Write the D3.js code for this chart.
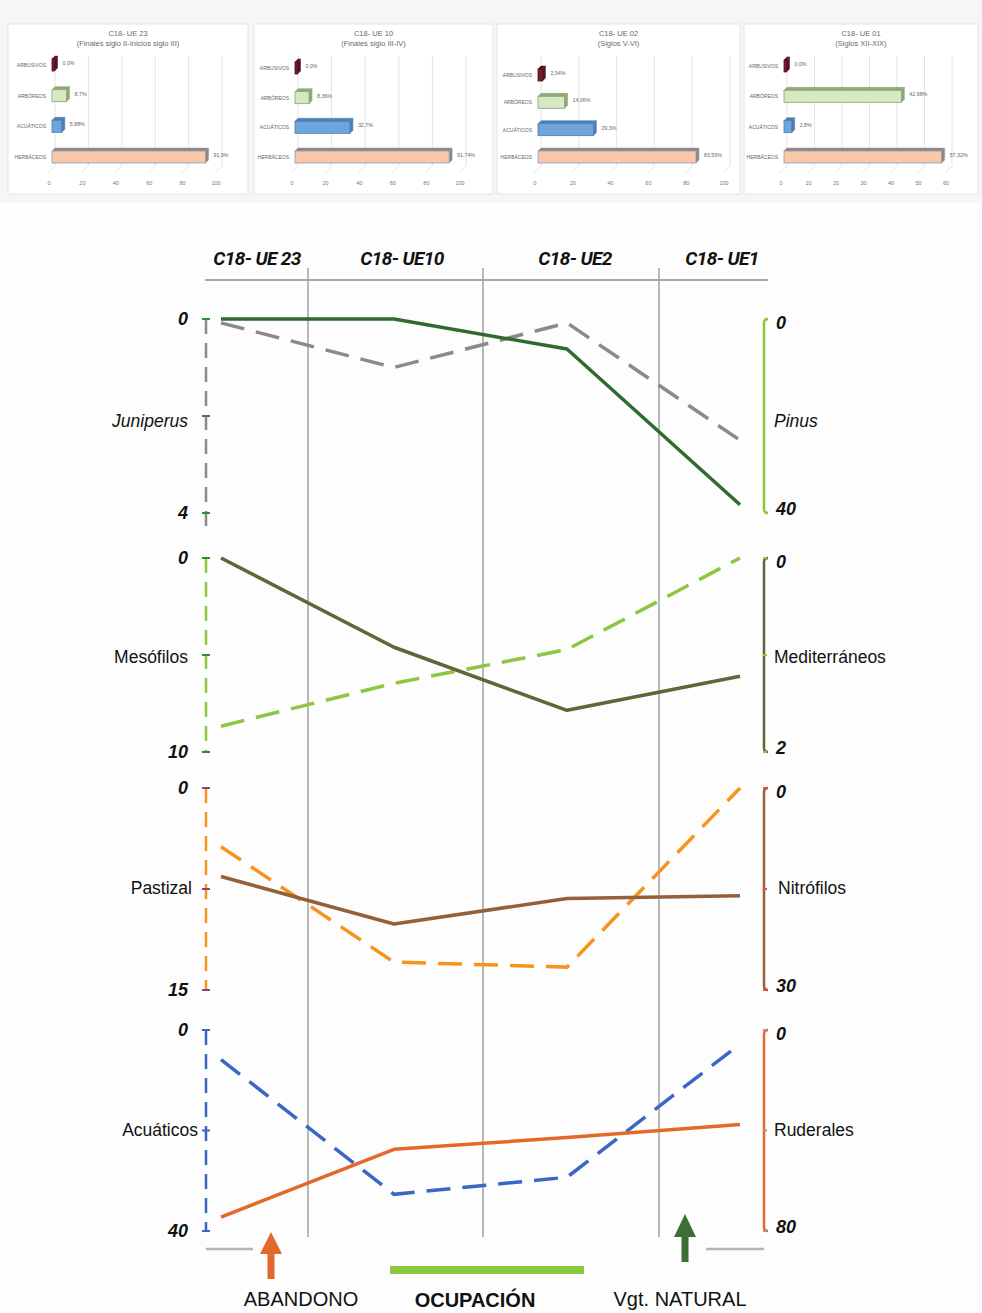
<!DOCTYPE html>
<html>
<head>
<meta charset="utf-8">
<script src="https://cdn.jsdelivr.net/npm/d3@7/dist/d3.min.js"></script>
<style>
  html, body { margin: 0; padding: 0; background: #fdfdfd; }
  svg { display: block; }
</style>
</head>
<body>
<svg id="chart" width="982" height="1313"></svg>
<script>
// ---------------- DATA ----------------
const samples = ["C18- UE 23", "C18- UE10", "C18- UE2", "C18- UE1"];

// Top bar panels
const barCategories = ["ARBUSIVOS", "ARBÓREOS", "ACUÁTICOS", "HERBÁCEOS"];
const panelTitles = ["C18- UE 23", "C18- UE 10", "C18- UE 02", "C18- UE 01"];
const panelSubtitles = ["(Finales siglo II-Inicios siglo III)", "(Finales siglo III-IV)", "(Siglos V-VI)", "(Siglos XII-XIX)"];
const barUE23 = [0.0, 8.7, 5.88, 91.9];
const barUE10 = [0.0, 8.36, 32.7, 91.74];
const barUE02 = [2.34, 14.06, 29.3, 83.59];
const barUE01 = [0.0, 42.68, 2.8, 57.32];
const barLabelsUE23 = ["0,0%", "8,7%", "5,88%", "91,9%"];
const barLabelsUE10 = ["0,0%", "8,36%", "32,7%", "91,74%"];
const barLabelsUE02 = ["2,34%", "14,06%", "29,3%", "83,59%"];
const barLabelsUE01 = ["0,0%", "42,68%", "2,8%", "57,32%"];
const barTicks100 = [0, 20, 40, 60, 80, 100];
const barTicks60 = [0, 10, 20, 30, 40, 50, 60];

// Main chart series (left axis / right axis)
const juniperus = [0.08, 1.0, 0.08, 2.5];      // 0-4
const pinus = [0, 0, 6.2, 38.3];               // 0-40
const mesofilos = [8.67, 6.46, 4.72, 0];       // 0-10
const mediterraneos = [0, 0.92, 1.57, 1.22];   // 0-2
const pastizal = [4.36, 12.93, 13.3, 0];       // 0-15
const nitrofilos = [13.15, 20.2, 16.4, 16.0];  // 0-30
const acuaticos = [5.88, 32.7, 29.3, 2.8];     // 0-40
const ruderales = [74.5, 47.5, 42.8, 37.6];    // 0-80

const leftNames = ["Juniperus", "Mesófilos", "Pastizal", "Acuáticos"];
const rightNames = ["Pinus", "Mediterráneos", "Nitrófilos", "Ruderales"];
const leftMax = [4, 10, 15, 40];
const rightMax = [40, 2, 30, 80];
const bottomLabels = ["ABANDONO", "OCUPACIÓN", "Vgt. NATURAL"];

// ---------------- DRAW ----------------
const svg = d3.select("#chart");

// top strip background
svg.append("rect").attr("x", 0).attr("y", 0).attr("width", 982).attr("height", 203).attr("fill", "#f6f6f6");

const barPanels = [
  { x0: 8, x1: 248, ax0: 52, ax1: 219, ticks: barTicks100, yTop: 65, yBot: 157, vals: barUE23, labs: barLabelsUE23 },
  { x0: 254, x1: 493, ax0: 295, ax1: 463, ticks: barTicks100, yTop: 68, yBot: 157, vals: barUE10, labs: barLabelsUE10 },
  { x0: 497, x1: 740, ax0: 538, ax1: 727, ticks: barTicks100, yTop: 75, yBot: 157, vals: barUE02, labs: barLabelsUE02 },
  { x0: 744, x1: 978, ax0: 784, ax1: 949, ticks: barTicks60, yTop: 66, yBot: 157, vals: barUE01, labs: barLabelsUE01 }
];
const barFill = ["#7a1a2c", "#d6e9c2", "#6ea6dc", "#fbc8a6"];
const barStroke = ["#4d0f1b", "#8aa26e", "#4a7cb8", "#7f9fcf"];
const barSide = ["#5a1020", "#93a87c", "#4f80b2", "#9c8272"];
const depth = 3, barH = 12;

barPanels.forEach((p, i) => {
  const g = svg.append("g");
  g.append("rect").attr("x", p.x0).attr("y", 24).attr("width", p.x1 - p.x0).attr("height", 170)
    .attr("fill", "#ffffff").attr("stroke", "#e3e3e3").attr("stroke-width", 1);
  const cx = (p.x0 + p.x1) / 2;
  g.append("text").attr("x", cx).attr("y", 36).attr("text-anchor", "middle")
    .attr("font-family", "Liberation Sans, Arial, sans-serif").attr("font-size", 7.5).attr("fill", "#6a6a6a")
    .text(panelTitles[i]);
  g.append("text").attr("x", cx).attr("y", 46).attr("text-anchor", "middle")
    .attr("font-family", "Liberation Sans, Arial, sans-serif").attr("font-size", 7.5).attr("fill", "#6a6a6a")
    .text(panelSubtitles[i]);

  const tmax = p.ticks[p.ticks.length - 1];
  const x = d3.scaleLinear().domain([0, tmax]).range([p.ax0, p.ax1]);
  const y = d3.scalePoint().domain(barCategories).range([p.yTop, p.yBot]);

  // gridlines with 3D floor slant
  p.ticks.forEach(t => {
    g.append("line").attr("x1", x(t) + depth).attr("x2", x(t) + depth).attr("y1", 56).attr("y2", 166)
      .attr("stroke", "#dddddd").attr("stroke-width", 0.8);
    g.append("line").attr("x1", x(t) + depth).attr("x2", x(t) - 4).attr("y1", 166).attr("y2", 173)
      .attr("stroke", "#dddddd").attr("stroke-width", 0.8);
    g.append("text").attr("x", x(t) - 3).attr("y", 185).attr("text-anchor", "middle")
      .attr("font-family", "Liberation Sans, Arial, sans-serif").attr("font-size", 5.5).attr("fill", "#777")
      .text(t);
  });

  barCategories.forEach((c, k) => {
    const yc = y(c);
    const w = Math.max(2.5, x(p.vals[k]) - x(0));
    const x0 = x(0), yt = yc - barH / 2, yb = yc + barH / 2;
    g.append("polygon").attr("points", [[x0, yt], [x0 + depth, yt - depth], [x0 + w + depth, yt - depth], [x0 + w, yt]].join(" "))
      .attr("fill", barSide[k]).attr("stroke", barStroke[k]).attr("stroke-width", 0.5);
    g.append("polygon").attr("points", [[x0 + w, yt], [x0 + w + depth, yt - depth], [x0 + w + depth, yb - depth], [x0 + w, yb]].join(" "))
      .attr("fill", barSide[k]).attr("stroke", barStroke[k]).attr("stroke-width", 0.5);
    g.append("rect").attr("x", x0).attr("y", yt).attr("width", w).attr("height", barH)
      .attr("fill", barFill[k]).attr("stroke", barStroke[k]).attr("stroke-width", 0.8);
    g.append("text").attr("x", x0 - 6).attr("y", yc + 2).attr("text-anchor", "end")
      .attr("font-family", "Liberation Sans, Arial, sans-serif").attr("font-size", 5).attr("fill", "#666")
      .text(c);
    g.append("text").attr("x", x0 + w + depth + 5).attr("y", yc).attr("text-anchor", "start")
      .attr("font-family", "Liberation Sans, Arial, sans-serif").attr("font-size", 5.3).attr("fill", "#666")
      .text(p.labs[k]);
  });
});

// ---------- main chart ----------
const x = d3.scalePoint().domain(samples).range([221, 740]);
const headerX = [257, 402, 575, 722];
const dividers = [308, 483, 659];

samples.forEach((s, i) => {
  svg.append("text").attr("x", headerX[i]).attr("y", 265).attr("text-anchor", "middle")
    .attr("font-family", "Roboto, 'Open Sans', sans-serif").attr("font-weight", 700).attr("font-style", "italic")
    .attr("font-size", 19).attr("letter-spacing", -0.6).attr("fill", "#111").text(s);
});
svg.append("line").attr("x1", 205).attr("x2", 768).attr("y1", 280).attr("y2", 280)
  .attr("stroke", "#a8a8a8").attr("stroke-width", 2);
dividers.forEach(d => {
  svg.append("line").attr("x1", d).attr("x2", d).attr("y1", 268).attr("y2", 1237)
    .attr("stroke", "#9a9a9a").attr("stroke-width", 1.4);
});

const panels = [
  { top: 319, bot: 513, leftSeries: juniperus, rightSeries: pinus,
    leftColor: "#8a8a8a", leftTick: "#2e8b3a", rightColor: "#8dc63f", rightTick: "#8dc63f",
    leftLine: "#8a8a8a", rightLine: "#2f6b2f", axisExtend: 22,
    labelY: 421, leftItalic: true, rightItalic: true },
  { top: 558, bot: 752, leftSeries: mesofilos, rightSeries: mediterraneos,
    leftColor: "#8dc63f", leftTick: "#2e8b3a", rightColor: "#5f6638", rightTick: "#8dc63f",
    leftLine: "#8dc63f", rightLine: "#5f6638", axisExtend: 0,
    labelY: 657, leftItalic: false, rightItalic: false },
  { top: 788, bot: 990, leftSeries: pastizal, rightSeries: nitrofilos,
    leftColor: "#f7941d", leftTick: "#8e3b9e", rightColor: "#9a5f38", rightTick: "#ee4b2b",
    leftLine: "#f7941d", rightLine: "#93603a", axisExtend: 0,
    labelY: 888, leftItalic: false, rightItalic: false },
  { top: 1030, bot: 1231, leftSeries: acuaticos, rightSeries: ruderales,
    leftColor: "#3a66c4", leftTick: "#3a66c4", rightColor: "#e26a2c", rightTick: "#999",
    leftLine: "#3a66c4", rightLine: "#e3682a", axisExtend: 0,
    labelY: 1130, leftItalic: false, rightItalic: false }
];

const numFont = "'Liberation Sans', Arial, sans-serif";

panels.forEach((p, i) => {
  const yL = d3.scaleLinear().domain([0, leftMax[i]]).range([p.top, p.bot]);
  const yR = d3.scaleLinear().domain([0, rightMax[i]]).range([p.top, p.bot]);
  const g = svg.append("g");

  g.append("line").attr("x1", 206).attr("x2", 206).attr("y1", yL(0)).attr("y2", yL(leftMax[i]) + p.axisExtend)
    .attr("stroke", p.leftColor).attr("stroke-width", 2.5).attr("stroke-dasharray", "15,9");
  [0, leftMax[i] / 2, leftMax[i]].forEach(t => {
    g.append("line").attr("x1", 202).attr("x2", 210).attr("y1", yL(t)).attr("y2", yL(t))
      .attr("stroke", p.leftTick).attr("stroke-width", 2);
  });
  [0, leftMax[i]].forEach(t => {
    g.append("text").attr("x", 188).attr("y", yL(t) + 6).attr("text-anchor", "end")
      .attr("font-family", numFont).attr("font-weight", 700).attr("font-style", "italic")
      .attr("font-size", 18).attr("fill", "#111").text(t);
  });
  const rx = 764;
  g.append("path")
    .attr("d", `M${rx + 4},${yR(0)} Q${rx},${yR(0)} ${rx},${yR(0) + 4} L${rx},${yR(rightMax[i]) - 4} Q${rx},${yR(rightMax[i])} ${rx + 4},${yR(rightMax[i])}`)
    .attr("fill", "none").attr("stroke", p.rightColor).attr("stroke-width", 2.5);
  if (i >= 1) {
    [0, rightMax[i] / 2, rightMax[i]].forEach(t => {
      g.append("line").attr("x1", rx - 1).attr("x2", rx + 3).attr("y1", yR(t)).attr("y2", yR(t))
        .attr("stroke", p.rightTick).attr("stroke-width", 2);
    });
  }
  [0, rightMax[i]].forEach(t => {
    g.append("text").attr("x", 776).attr("y", yR(t) + (t === 0 ? 10 : 2)).attr("text-anchor", "start")
      .attr("font-family", numFont).attr("font-weight", 700).attr("font-style", "italic")
      .attr("font-size", 18).attr("fill", "#111").text(t);
  });
  g.append("text").attr("x", i === 3 ? 198 : (i === 2 ? 192 : 188)).attr("y", p.labelY + 6).attr("text-anchor", "end")
    .attr("font-family", numFont).attr("font-style", p.leftItalic ? "italic" : "normal")
    .attr("font-size", 17.5).attr("fill", "#111").text(leftNames[i]);
  g.append("text").attr("x", i === 2 ? 778 : 774).attr("y", p.labelY + 6).attr("text-anchor", "start")
    .attr("font-family", numFont).attr("font-style", p.rightItalic ? "italic" : "normal")
    .attr("font-size", 17.5).attr("fill", "#111").text(rightNames[i]);

  const lineL = d3.line().x((d, k) => x(samples[k])).y(d => yL(d));
  const lineR = d3.line().x((d, k) => x(samples[k])).y(d => yR(d));
  g.append("path").attr("d", lineL(p.leftSeries)).attr("fill", "none")
    .attr("stroke", p.leftLine).attr("stroke-width", 3.5).attr("stroke-dasharray", "24,12");
  g.append("path").attr("d", lineR(p.rightSeries)).attr("fill", "none")
    .attr("stroke", p.rightLine).attr("stroke-width", 3.5).attr("stroke-linejoin", "round");
});

// ---------- bottom annotations ----------
svg.append("line").attr("x1", 206).attr("x2", 253).attr("y1", 1249).attr("y2", 1249)
  .attr("stroke", "#b5b5b5").attr("stroke-width", 2.5);
svg.append("line").attr("x1", 706).attr("x2", 764).attr("y1", 1249).attr("y2", 1249)
  .attr("stroke", "#b5b5b5").attr("stroke-width", 2.5);

function arrow(cx, tip, base, bottom, color) {
  svg.append("rect").attr("x", cx - 3.5).attr("y", base - 1).attr("width", 7).attr("height", bottom - base + 1).attr("fill", color);
  svg.append("polygon").attr("points", [[cx, tip], [cx - 11, base], [cx + 11, base]].join(" ")).attr("fill", color);
}
arrow(271, 1232, 1254, 1279, "#e0692b");
arrow(685, 1214, 1237, 1262, "#3d6e35");

svg.append("rect").attr("x", 390).attr("y", 1266).attr("width", 194).attr("height", 8).attr("fill", "#8dc63f");

svg.append("text").attr("x", 301).attr("y", 1306).attr("text-anchor", "middle")
  .attr("font-family", numFont).attr("font-size", 20).attr("fill", "#111").text(bottomLabels[0]);
svg.append("text").attr("x", 475).attr("y", 1307).attr("text-anchor", "middle")
  .attr("font-family", numFont).attr("font-weight", 700).attr("font-size", 20).attr("fill", "#111").text(bottomLabels[1]);
svg.append("text").attr("x", 680).attr("y", 1306).attr("text-anchor", "middle")
  .attr("font-family", numFont).attr("font-size", 20).attr("fill", "#111").text(bottomLabels[2]);
</script>
</body>
</html>
